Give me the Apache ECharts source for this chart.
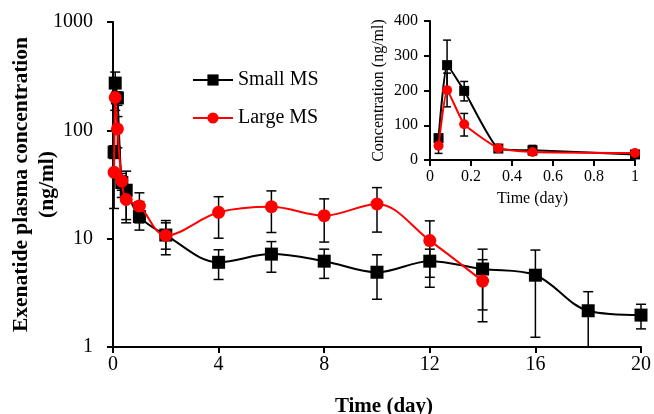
<!DOCTYPE html>
<html>
<head>
<meta charset="utf-8">
<script src="https://cdn.jsdelivr.net/npm/echarts@6/dist/echarts.min.js"></script>
<style>
  html, body { margin: 0; padding: 0; background: #fff; }
  #chart { width: 654px; height: 414px; }
</style>
</head>
<body>
<div id="chart"></div>
<script>
// time points (day)
const times = [0.0417, 0.0833, 0.1667, 0.3333, 0.5, 1, 2, 4, 6, 8, 10, 12, 14, 16, 18, 20];

// Small MS
const smallMean = [63, 273, 199, 33, 28, 16, 10.8, 6.05, 7.2, 6.2, 4.9, 6.2, 5.25, 4.6, 2.16, 1.97];
const smallLow = [55, 200, 170, 24, 14, 12, 7.1, 4.2, 4.9, 4.3, 2.76, 4.4, 2.2, 1.23, 1.0, 1.47];
const smallHigh = [72, 345, 226, 40, 42, 22, 14.7, 7.9, 9.4, 8.0, 7.1, 8.0, 8.0, 7.85, 3.24, 2.48];

// Large MS (no data after day 14)
const largeMean = [41, 201, 103, 34, 23, 20, 10.7, 17.5, 19.7, 16.3, 20.9, 9.6, 4.06];
const largeLow = [19, 153, 69, 28, 15, 14, 8, 10.1, 11.4, 9.3, 11.5, 3.56, 1.71];
const largeHigh = [60, 250, 134, 38, 29, 26.5, 14, 24.4, 27.6, 23.3, 29.6, 14.6, 6.4];

const yTicksMain = [1, 10, 100, 1000];

const font = 'Liberation Serif';

const pairs = (xs, ys) => ys.map((v, i) => [xs[i], v]);
const bars = (xs, lo, hi) => lo.map((v, i) => [xs[i], v, hi[i]]);
const upTo = (arr, n) => arr.slice(0, n); // first n points (t <= 1 day for inset)

function errorBar(capW) {
  return function (params, api) {
    const x = api.value(0);
    const a = api.coord([x, api.value(1)]);
    const b = api.coord([x, api.value(2)]);
    const st = { stroke: '#000', lineWidth: 1.5 };
    return {
      type: 'group',
      children: [
        { type: 'line', shape: { x1: a[0], y1: a[1], x2: b[0], y2: b[1] }, style: st },
        { type: 'line', shape: { x1: a[0] - capW, y1: a[1], x2: a[0] + capW, y2: a[1] }, style: st },
        { type: 'line', shape: { x1: b[0] - capW, y1: b[1], x2: b[0] + capW, y2: b[1] }, style: st },
      ],
    };
  };
}

const axisCommon = {
  nameMoveOverlap: false,
  axisLine: { lineStyle: { color: '#000', width: 2 } },
  axisTick: { inside: false, length: 6, lineStyle: { color: '#000', width: 2 } },
  splitLine: { show: false },
};

const chart = echarts.init(document.getElementById('chart'));

let options = {
  backgroundColor: '#fff',
  animation: false,
  textStyle: { fontFamily: font },
  legend: {
    data: ['Small MS', 'Large MS'],
    orient: 'vertical',
    left: 192,
    top: 70,
    padding: 0,
    itemWidth: 40,
    itemHeight: 14,
    itemGap: 18,
    textStyle: { fontFamily: font, fontSize: 20, color: '#000', lineHeight: 20 },
  },
  grid: [
    { left: 113, right: 13, top: 22, bottom: 67, outerBoundsMode: 'none', containLabel: false },
    { left: 430, right: 19, top: 21, bottom: 254, outerBoundsMode: 'none', containLabel: false },
  ],
  xAxis: [
    {
      gridIndex: 0,
      type: 'value',
      min: 0,
      max: 20,
      interval: 4,
      ...axisCommon,
      axisLabel: { color: '#000', fontSize: 20, fontFamily: font, margin: 8 },
      name: 'Time (day)',
      nameLocation: 'middle',
      nameGap: 49,
      nameTextStyle: { color: '#000', fontSize: 21, fontWeight: 'bold', fontFamily: font, padding: [0, 0, 0, 14] },
    },
    {
      gridIndex: 1,
      type: 'value',
      min: 0,
      max: 1,
      interval: 0.2,
      ...axisCommon,
      axisLabel: { color: '#000', fontSize: 16, fontFamily: font, margin: 9 },
      name: 'Time (day)',
      nameLocation: 'middle',
      nameGap: 31,
      nameTextStyle: { color: '#000', fontSize: 16, fontFamily: font },
    },
  ],
  yAxis: [
    {
      gridIndex: 0,
      type: 'log',
      logBase: 10,
      min: yTicksMain[0],
      max: yTicksMain[yTicksMain.length - 1],
      ...axisCommon,
      axisLabel: { color: '#000', fontSize: 20, fontFamily: font, margin: 20, formatter: v => String(v) },
      name: 'Exenatide plasma concentration\n(ng/ml)',
      nameLocation: 'middle',
      nameGap: 53,
      nameTextStyle: { color: '#000', fontSize: 21.5, fontWeight: 'bold', fontFamily: font, lineHeight: 26 },
    },
    {
      gridIndex: 1,
      type: 'value',
      min: 0,
      max: 400,
      interval: 100,
      ...axisCommon,
      axisLabel: { color: '#000', fontSize: 16, fontFamily: font, margin: 12 },
      name: 'Concentration (ng/ml)',
      nameLocation: 'middle',
      nameGap: 43,
      nameTextStyle: { color: '#000', fontSize: 16, fontFamily: font },
    },
  ],
  series: [
    // main plot
    {
      type: 'custom',
      xAxisIndex: 0,
      yAxisIndex: 0,
      z: 1,
      renderItem: errorBar(5),
      encode: { x: 0, y: [1, 2] },
      data: bars(times, smallLow, smallHigh),
    },
    {
      type: 'custom',
      xAxisIndex: 0,
      yAxisIndex: 0,
      z: 1,
      renderItem: errorBar(5),
      encode: { x: 0, y: [1, 2] },
      data: bars(times, largeLow, largeHigh),
    },
    {
      name: 'Small MS',
      type: 'line',
      xAxisIndex: 0,
      yAxisIndex: 0,
      z: 2,
      smooth: 0.35,
      symbol: 'rect',
      symbolSize: 13,
      lineStyle: { color: '#000', width: 2 },
      itemStyle: { color: '#000' },
      data: pairs(times, smallMean),
    },
    {
      name: 'Large MS',
      type: 'line',
      xAxisIndex: 0,
      yAxisIndex: 0,
      z: 3,
      smooth: 0.35,
      symbol: 'circle',
      symbolSize: 13,
      lineStyle: { color: '#ff0000', width: 2 },
      itemStyle: { color: '#ff0000' },
      data: pairs(times, largeMean),
    },
    // inset (first day)
    {
      type: 'custom',
      xAxisIndex: 1,
      yAxisIndex: 1,
      z: 1,
      renderItem: errorBar(4),
      encode: { x: 0, y: [1, 2] },
      data: upTo(bars(times, smallLow, smallHigh), 6),
    },
    {
      type: 'custom',
      xAxisIndex: 1,
      yAxisIndex: 1,
      z: 1,
      renderItem: errorBar(4),
      encode: { x: 0, y: [1, 2] },
      data: upTo(bars(times, largeLow, largeHigh), 6),
    },
    {
      name: 'Small MS',
      type: 'line',
      xAxisIndex: 1,
      yAxisIndex: 1,
      z: 2,
      smooth: 0.15,
      symbol: 'rect',
      symbolSize: 10,
      lineStyle: { color: '#000', width: 2 },
      itemStyle: { color: '#000' },
      data: upTo(pairs(times, smallMean), 6),
    },
    {
      name: 'Large MS',
      type: 'line',
      xAxisIndex: 1,
      yAxisIndex: 1,
      z: 3,
      smooth: 0.15,
      symbol: 'circle',
      symbolSize: 10,
      lineStyle: { color: '#ff0000', width: 2 },
      itemStyle: { color: '#ff0000' },
      data: upTo(pairs(times, largeMean), 6),
    },
  ],
};

chart.setOption(options);
</script>
</body>
</html>
